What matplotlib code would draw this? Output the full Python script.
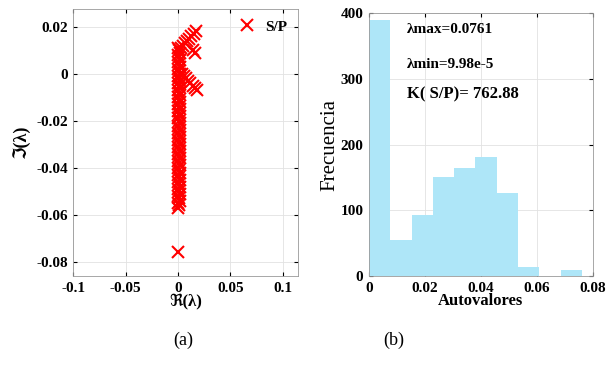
import numpy as np
import matplotlib.pyplot as plt

plt.rcParams['font.family'] = ['Liberation Serif', 'DejaVu Sans']

# eigenvalues of S/P (real, imaginary) - dense column near the imaginary axis
re_col = [0.000, 0.001, 0.002, 0.000, 0.001, 0.002, 0.000, 0.001, 0.002, 0.000,
          0.001, 0.002, 0.000, 0.001, 0.002, 0.000, 0.001, 0.002, 0.000, 0.001,
          0.002, 0.000, 0.001, 0.002, 0.000, 0.001, 0.002, 0.000, 0.001, 0.002,
          0.000, 0.001, 0.002, 0.000, 0.001, 0.002, 0.000, 0.001, 0.002, 0.000,
          0.001, 0.002, 0.000, 0.001, 0.002, 0.000, 0.001, 0.002, 0.000, 0.001,
          0.002, 0.000, 0.001, 0.002, 0.000, 0.001, 0.002, 0.000, 0.001, 0.002,
          0.000, 0.001, 0.002, 0.000, 0.001, 0.002, 0.000, 0.001]
im_col = [0.011, 0.010, 0.009, 0.008, 0.007, 0.006, 0.005, 0.004, 0.003, 0.002,
          0.001, 0.000, -0.001, -0.002, -0.003, -0.004, -0.005, -0.006, -0.007, -0.008,
          -0.009, -0.010, -0.011, -0.012, -0.013, -0.014, -0.015, -0.016, -0.017, -0.018,
          -0.019, -0.020, -0.021, -0.022, -0.023, -0.024, -0.025, -0.026, -0.027, -0.028,
          -0.029, -0.030, -0.031, -0.032, -0.033, -0.034, -0.035, -0.036, -0.037, -0.038,
          -0.039, -0.040, -0.041, -0.042, -0.043, -0.044, -0.045, -0.046, -0.047, -0.048,
          -0.049, -0.050, -0.051, -0.052, -0.053, -0.054, -0.055, -0.056]
# eigenvalues away from the column
re_out = [0.003, 0.005, 0.007, 0.009, 0.011, 0.013, 0.015, 0.017, 0.014, 0.016,
          0.004, 0.006, 0.008, 0.010, 0.012, 0.014, 0.016, 0.018, 0.000, 0.000]
im_out = [0.011, 0.012, 0.013, 0.014, 0.015, 0.016, 0.017, 0.018, 0.010, 0.009,
          0.000, -0.001, -0.002, -0.003, -0.004, -0.005, -0.006, -0.007, -0.057, -0.076]

# histogram of eigenvalue magnitudes
bin_edges = [0.0, 0.0076, 0.0152, 0.0228, 0.0304, 0.0380, 0.0457, 0.0533, 0.0609, 0.0685, 0.0761]
counts = [390, 55, 93, 151, 164, 181, 126, 14, 0, 9]

fig = plt.figure(figsize=(6.15, 3.66), dpi=100)

# (a) eigenvalue scatter
ax1 = fig.add_axes([0.119, 0.246, 0.366, 0.729])
ax1.plot(re_col + re_out, im_col + im_out, 'x', color='red', markersize=9,
         markeredgewidth=1.5, label='S/P')
ax1.set_xlim(-0.1, 0.115)
ax1.set_ylim(-0.086, 0.0275)
ax1.set_xticks([-0.1, -0.05, 0, 0.05, 0.1])
ax1.set_xticklabels(['-0.1', '-0.05', '0', '0.05', '0.1'])
ax1.set_yticks([-0.08, -0.06, -0.04, -0.02, 0, 0.02])
ax1.set_yticklabels(['-0.08', '-0.06', '-0.04', '-0.02', '0', '0.02'])
ax1.set_xlabel('ℜ(λ)', fontsize=12, fontweight='bold', labelpad=-1)
ax1.set_ylabel('ℑ(λ)', fontsize=13, fontweight='bold', labelpad=4)
ax1.legend(loc='upper right', frameon=False, handletextpad=0.2,
           prop={'weight': 'bold', 'size': 11}, borderaxespad=0.3)

# (b) histogram
ax2 = fig.add_axes([0.600, 0.246, 0.364, 0.718])
ax2.bar(bin_edges[:-1], counts, width=np.diff(bin_edges), align='edge',
        color='#aee6f8', edgecolor='none')
ax2.set_xlim(0, 0.08)
ax2.set_ylim(0, 400)
ax2.set_xticks([0, 0.02, 0.04, 0.06, 0.08])
ax2.set_xticklabels(['0', '0.02', '0.04', '0.06', '0.08'])
ax2.set_yticks([0, 100, 200, 300, 400])
ax2.set_xlabel('Autovalores', fontsize=12, fontweight='bold', labelpad=-1)
ax2.set_ylabel('Frecuencia', fontsize=15, labelpad=1)
ax2.text(0.0135, 375, 'λmax=0.0761', fontsize=11, fontweight='bold', va='center')
ax2.text(0.0135, 322, 'λmin=9.98e-5', fontsize=11, fontweight='bold', va='center')
ax2.text(0.0135, 276, 'K( S/P)= 762.88', fontsize=12, fontweight='bold', va='center')

for ax in (ax1, ax2):
    ax.tick_params(direction='in', length=3, labelsize=11, pad=4,
                   top=True, right=True)
    for lab in ax.get_xticklabels() + ax.get_yticklabels():
        lab.set_fontweight('bold')
    ax.grid(True, color='#e2e2e2', linewidth=0.6)
    ax.set_axisbelow(True)
    for sp in ax.spines.values():
        sp.set_color('#999999')
        sp.set_linewidth(0.6)

fig.text(0.298, 0.07, '(a)', fontsize=13, ha='center', va='center')
fig.text(0.641, 0.07, '(b)', fontsize=13, ha='center', va='center')

fig.savefig('out.png', dpi=100)
